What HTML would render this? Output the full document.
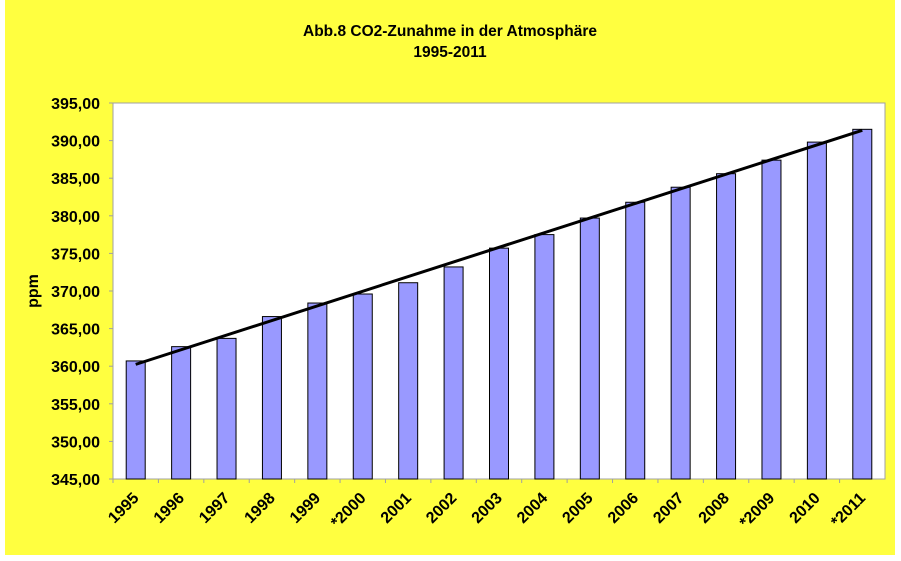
<!DOCTYPE html>
<html><head><meta charset="utf-8"><style>
body{margin:0;background:#fff}
svg{display:block;font-family:"Liberation Sans",Arial,sans-serif;font-weight:bold}
</style></head><body>
<svg width="901" height="561">
<rect x="5" y="0" width="890" height="555" fill="#ffff40"/>
<text x="450" y="36" text-anchor="middle" font-size="15.5">Abb.8 CO2-Zunahme in der Atmosphäre</text>
<text x="450" y="57" text-anchor="middle" font-size="15.5">1995-2011</text>
<rect x="113" y="103" width="772" height="376" fill="#fff" stroke="#a0a0a0" stroke-width="1"/>
<text transform="translate(38,291) rotate(-90)" text-anchor="middle" font-size="16">ppm</text>
<g id="g"></g>
</svg>
<script>
const categories=["1995","1996","1997","1998","1999","*2000","2001","2002","2003","2004","2005","2006","2007","2008","*2009","2010","*2011"];
const values=[360.7,362.6,363.7,366.6,368.4,369.6,371.1,373.2,375.7,377.5,379.7,381.8,383.8,385.6,387.4,389.8,391.5];
const yTicks=[345,350,355,360,365,370,375,380,385,390,395];
const X0=113,X1=885,Y0=479,Y1=103,ymin=345,ymax=395;
const bw=(X1-X0)/categories.length;
const y=v=>Y0-(v-ymin)/(ymax-ymin)*(Y0-Y1);
const cx=i=>X0+bw*(i+0.5);
const g=document.getElementById('g');
const NS='http://www.w3.org/2000/svg';
function mk(t,a){const e=document.createElementNS(NS,t);for(const k in a)e.setAttribute(k,a[k]);g.appendChild(e);return e;}
yTicks.forEach(v=>{
 const l=mk('line',{x1:X0-4,x2:X0,y1:y(v),y2:y(v),stroke:'#a0a0a0'});
 
 
 const t=mk('text',{x:X0-13,y:y(v)+6,'text-anchor':'end','font-size':16});
 t.textContent=v.toFixed(2).replace('.',',');
 
 
});
categories.forEach((c,i)=>{
 const tk=mk('line',{x1:X0+bw*i,x2:X0+bw*i,y1:Y0,y2:Y0+4,stroke:'#a0a0a0'});
 
 
 const b=mk('rect',{x:cx(i)-9.5,y:y(values[i]),width:19,height:Y0-y(values[i]),fill:'#9999ff',stroke:'#000','stroke-width':1});
 
 
 const t=mk('text',{transform:`translate(${cx(i)+4},${Y0+20}) rotate(-45)`,'text-anchor':'end','font-size':16});
 t.textContent=c;
 
 
});
const n=values.length;let sx=0,sy=0,sxx=0,sxy=0;
values.forEach((v,i)=>{sx+=i;sy+=v;sxx+=i*i;sxy+=i*v;});
const m=(n*sxy-sx*sy)/(n*sxx-sx*sx),b0=(sy-m*sx)/n;
const tl=mk('line',{x1:cx(0),y1:y(b0),x2:cx(n-1),y2:y(b0+m*(n-1)),stroke:'#000','stroke-width':3});


</script>
</body></html>
